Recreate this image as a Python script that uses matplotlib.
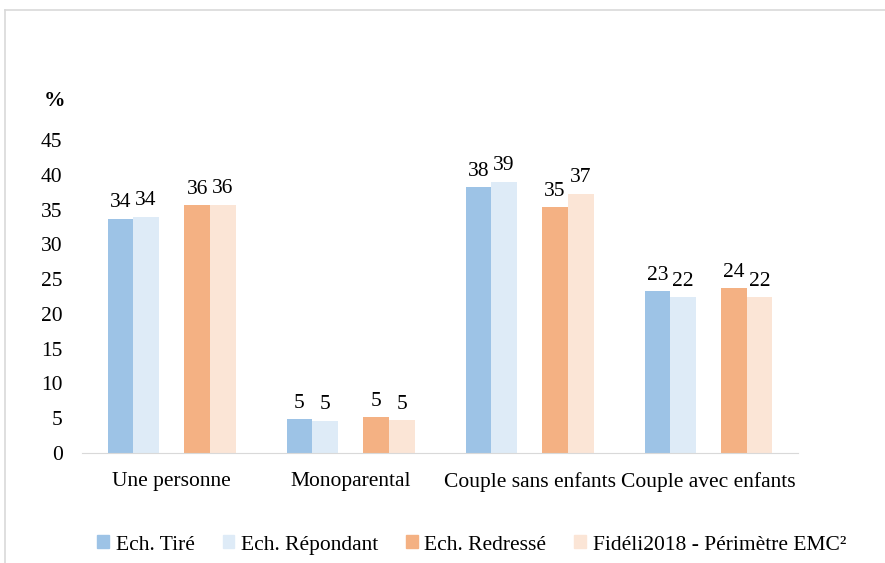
import matplotlib.pyplot as plt
import numpy as np
from matplotlib.lines import Line2D

plt.rcParams['font.family'] = 'serif'
plt.rcParams['font.serif'] = ['Liberation Serif', 'DejaVu Serif']

categories = ['Une personne', 'Monoparental', 'Couple sans enfants', 'Couple avec enfants']
series_names = ['Ech. Tiré', 'Ech. Répondant', 'Ech. Redressé', 'Fidéli2018 - Périmètre EMC²']
tire = [33.7, 4.85, 38.2, 23.3]
repondant = [34.0, 4.65, 39.0, 22.4]
redresse = [35.6, 5.2, 35.4, 23.7]
fideli = [35.7, 4.75, 37.3, 22.4]
yticks = [0, 5, 10, 15, 20, 25, 30, 35, 40, 45]

colors = ['#9DC3E6', '#DEEBF7', '#F4B183', '#FBE5D6']
offsets = [-2, -1, 1, 2]  # empty slot in the middle
w = 0.143
fs = 15.5

fig = plt.figure(figsize=(8.85, 5.63), dpi=100)
ax = fig.add_axes([0.0927, 0.1954, 0.809, 0.5559])

x = np.arange(len(categories))
for vals, col, off, name in zip([tire, repondant, redresse, fideli], colors, offsets, series_names):
    bars = ax.bar(x + off * w, vals, width=w, color=col, label=name)
    for b, v in zip(bars, vals):
        ax.text(b.get_x() + b.get_width() / 2, v + 0.9, '%d' % round(v),
                ha='center', va='bottom', fontsize=fs, clip_on=False)

ax.set_xlim(-0.5, 3.5)
ax.set_ylim(0, 45)
ax.set_yticks(yticks)
ax.set_xticks(x)
ax.set_xticklabels(categories, fontsize=fs)
ax.tick_params(axis='y', labelsize=fs, length=0, pad=14)
ax.tick_params(axis='x', length=0, pad=14)
for s in ['top', 'right', 'left']:
    ax.spines[s].set_visible(False)
ax.spines['bottom'].set_color('#D9D9D9')

fig.text(0.062, 0.82, '%', fontsize=fs, fontweight='bold', ha='center', va='center')

handles = [plt.Rectangle((0, 0), 1, 1, color=c) for c in colors]
fig.legend(handles, series_names, loc='center', bbox_to_anchor=(0.533, 0.032), ncol=4,
           frameon=False, fontsize=fs, handlelength=0.55, handleheight=0.55,
           handletextpad=0.3, columnspacing=1.3)

# light border of the chart area
fig.add_artist(Line2D([0.006, 1.0], [0.982, 0.982], color='#D9D9D9', lw=1.2))
fig.add_artist(Line2D([0.006, 0.006], [0.0, 0.982], color='#D9D9D9', lw=1.2))

fig.savefig('out.png', dpi=100)
